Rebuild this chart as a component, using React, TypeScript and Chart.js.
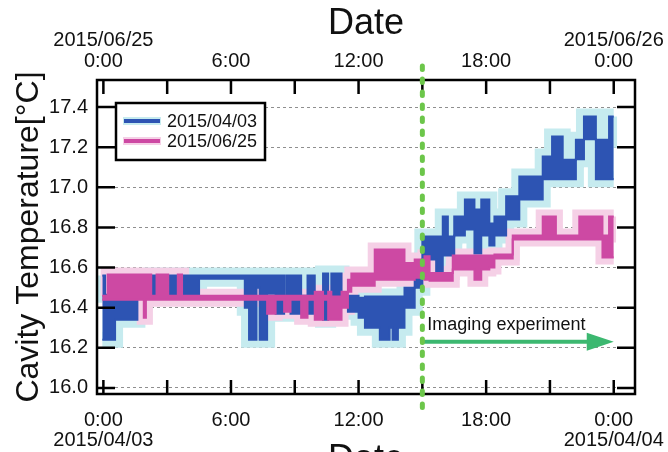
import React, { useEffect, useRef } from 'react';
import { Chart, registerables } from 'chart.js';

Chart.register(...registerables);

// ---------- data ----------
const X_MIN = -0.3;
const X_MAX = 25.0;
const Y_MIN = 15.97;
const Y_MAX = 17.535;
const X_TICKS = [0, 3, 6, 9, 12, 15, 18, 21, 24];
const Y_TICKS = [16.0, 16.2, 16.4, 16.6, 16.8, 17.0, 17.2, 17.4];
const BOTTOM_LABELS: Record<number, string[]> = {
  0: ['0:00', '2015/04/03'],
  6: ['6:00'],
  12: ['12:00'],
  18: ['18:00'],
  24: ['0:00', '2015/04/04'],
};
const TOP_LABELS: Record<number, string[]> = {
  0: ['2015/06/25', '0:00'],
  6: ['6:00'],
  12: ['12:00'],
  18: ['18:00'],
  24: ['2015/06/26', '0:00'],
};
const SERIES_NAMES = ['2015/04/03', '2015/06/25'];

// 2015/04/03 series: step start hour, lower and upper envelope of the fluctuating trace
const BLUE_H = [-0.05, 0.08, 0.55, 1.6, 2.25, 2.5, 3.05, 3.5, 3.7, 4.5, 6.65, 6.85, 7.2, 7.35, 7.7, 8.1, 8.5, 8.6, 8.8, 9.3, 9.6, 9.94, 10.33, 10.57, 10.72, 11.2, 11.5, 12.0, 12.3, 13.0, 13.46, 13.6, 13.85, 14.16, 14.64, 15.0, 15.65, 15.96, 16.2, 16.5, 17.0, 17.45, 17.77, 18.15, 18.39, 18.94, 19.56, 20.66, 21.1, 21.6, 22.22, 22.6, 23.16, 23.78, 24.0];
const BLUE_LO = [16.24, 16.24, 16.34, 16.46, 16.465, 16.46, 16.465, 16.46, 16.465, 16.545, 16.4, 16.24, 16.5, 16.24, 16.47, 16.37, 16.44, 16.4, 16.37, 16.44, 16.37, 16.44, 16.34, 16.44, 16.456, 16.42, 16.38, 16.35, 16.3, 16.24, 16.3, 16.24, 16.3, 16.4, 16.5, 16.64, 16.57, 16.66, 16.66, 16.76, 16.79, 16.67, 16.76, 16.71, 16.76, 16.84, 16.94, 17.04, 17.04, 17.04, 17.14, 17.24, 17.04, 17.04, 17.04];
const BLUE_HI = [16.56, 16.465, 16.465, 16.5, 16.56, 16.5, 16.56, 16.5, 16.56, 16.56, 16.56, 16.56, 16.56, 16.56, 16.56, 16.56, 16.46, 16.56, 16.56, 16.46, 16.56, 16.46, 16.57, 16.46, 16.57, 16.46, 16.46, 16.45, 16.456, 16.456, 16.456, 16.456, 16.456, 16.5, 16.6, 16.755, 16.755, 16.855, 16.755, 16.855, 16.94, 16.89, 16.94, 16.82, 16.855, 16.955, 17.054, 17.154, 17.253, 17.137, 17.237, 17.353, 17.237, 17.353, 17.353];

// 2015/06/25 series
const PINK_H = [-0.05, 0.2, 1.9, 2.0, 2.25, 2.5, 3.05, 3.5, 3.7, 7.7, 8.1, 8.5, 8.8, 9.3, 9.6, 9.94, 10.33, 10.57, 10.72, 11.2, 11.5, 11.66, 12.76, 14.16, 14.64, 15.1, 15.34, 16.43, 17.45, 17.77, 18.15, 18.39, 19.25, 20.66, 21.28, 22.38, 23.47, 23.78, 24.0];
const PINK_LO = [16.44, 16.44, 16.35, 16.44, 16.44, 16.44, 16.44, 16.44, 16.44, 16.37, 16.44, 16.38, 16.44, 16.35, 16.44, 16.34, 16.44, 16.34, 16.34, 16.4, 16.48, 16.51, 16.54, 16.54, 16.55, 16.54, 16.535, 16.59, 16.54, 16.59, 16.6, 16.645, 16.74, 16.74, 16.74, 16.74, 16.65, 16.65, 16.65];
const PINK_HI = [16.46, 16.565, 16.565, 16.565, 16.46, 16.565, 16.46, 16.565, 16.46, 16.46, 16.46, 16.46, 16.46, 16.46, 16.46, 16.48, 16.46, 16.48, 16.456, 16.48, 16.54, 16.57, 16.69, 16.623, 16.64, 16.656, 16.573, 16.66, 16.66, 16.66, 16.66, 16.665, 16.76, 16.855, 16.76, 16.855, 16.76, 16.855, 16.855];

const EXPERIMENT_START = 15;
const EXPERIMENT_END = 24;
const ARROW_LEVEL = 16.23;
const TEXT_LEVEL = 16.315;
const EXPERIMENT_LABEL = 'Imaging experiment';

// ---------- styles ----------
const FONT = '"Liberation Sans", Arial, Helvetica, sans-serif';
const BLUE = '#2d54b3';
const CYAN = '#c6ebef';
const PINK = '#cd49a3';
const PINK_BAND = '#f5d0e6';
const GREEN_DOTS = '#6cc64a';
const GREEN_ARROW = '#3cb870';

function pts(H: number[], V: number[]) {
  return H.map((h, i) => ({ x: h, y: V[i] }));
}

function layer(data: any[], color: string, width: number, fill: any, order: number) {
  return {
    data,
    borderColor: color,
    backgroundColor: color,
    borderWidth: width,
    fill,
    stepped: 'before',
    pointRadius: 0,
    pointHoverRadius: 0,
    order,
    borderCapStyle: 'butt',
    borderJoinStyle: 'miter',
    xAxisID: 'x',
    yAxisID: 'y',
  };
}

const overlayPlugin = {
  id: 'overlay',
  afterDatasetsDraw(chart: any) {
    const { ctx, chartArea: a, scales } = chart;
    const xs = scales.x;
    const ys = scales.y;
    ctx.save();

    // experiment arrow
    const ax0 = xs.getPixelForValue(EXPERIMENT_START);
    const ax1 = xs.getPixelForValue(EXPERIMENT_END);
    const ay = ys.getPixelForValue(ARROW_LEVEL);
    ctx.strokeStyle = GREEN_ARROW;
    ctx.fillStyle = GREEN_ARROW;
    ctx.lineWidth = 4;
    ctx.beginPath();
    ctx.moveTo(ax0, ay);
    ctx.lineTo(ax1 - 20, ay);
    ctx.stroke();
    ctx.beginPath();
    ctx.moveTo(ax1, ay);
    ctx.lineTo(ax1 - 27, ay - 9);
    ctx.lineTo(ax1 - 27, ay + 9);
    ctx.closePath();
    ctx.fill();

    ctx.fillStyle = '#111';
    ctx.font = `18px ${FONT}`;
    ctx.textAlign = 'left';
    ctx.textBaseline = 'middle';
    ctx.fillText(EXPERIMENT_LABEL, ax0 + 5, ys.getPixelForValue(TEXT_LEVEL));

    // frame
    ctx.strokeStyle = '#000';
    ctx.lineWidth = 2.5;
    ctx.strokeRect(a.left, a.top, a.right - a.left, a.bottom - a.top);

    // inward ticks
    ctx.lineWidth = 2.5;
    ctx.beginPath();
    X_TICKS.forEach((v) => {
      const px = xs.getPixelForValue(v);
      ctx.moveTo(px, a.bottom);
      ctx.lineTo(px, a.bottom - 14);
      ctx.moveTo(px, a.top);
      ctx.lineTo(px, a.top + 14);
    });
    Y_TICKS.forEach((v) => {
      const py = ys.getPixelForValue(v);
      ctx.moveTo(a.left, py);
      ctx.lineTo(a.left + 18, py);
      ctx.moveTo(a.right, py);
      ctx.lineTo(a.right - 18, py);
    });
    ctx.stroke();

    // green dotted experiment start line
    const gx = xs.getPixelForValue(EXPERIMENT_START);
    ctx.strokeStyle = GREEN_DOTS;
    ctx.lineWidth = 5;
    ctx.lineCap = 'round';
    ctx.setLineDash([3.5, 9.5]);
    ctx.beginPath();
    ctx.moveTo(gx, 66);
    ctx.lineTo(gx, 410);
    ctx.stroke();
    ctx.setLineDash([]);
    ctx.lineCap = 'butt';

    // legend
    const lx = a.left + 19;
    const ly = a.top + 23;
    const lw = 149;
    const lh = 57;
    ctx.fillStyle = '#fff';
    ctx.fillRect(lx, ly, lw, lh);
    ctx.strokeStyle = '#000';
    ctx.lineWidth = 2.5;
    ctx.strokeRect(lx, ly, lw, lh);
    const items = [
      { name: SERIES_NAMES[0], main: BLUE, band: CYAN },
      { name: SERIES_NAMES[1], main: PINK, band: PINK_BAND },
    ];
    items.forEach((it, i) => {
      const y = ly + 18 + i * 20;
      ctx.strokeStyle = it.band;
      ctx.lineWidth = 8;
      ctx.beginPath();
      ctx.moveTo(lx + 7, y);
      ctx.lineTo(lx + 45, y);
      ctx.stroke();
      ctx.strokeStyle = it.main;
      ctx.lineWidth = 4;
      ctx.beginPath();
      ctx.moveTo(lx + 8, y);
      ctx.lineTo(lx + 44, y);
      ctx.stroke();
      ctx.fillStyle = '#111';
      ctx.font = `18px ${FONT}`;
      ctx.textAlign = 'left';
      ctx.textBaseline = 'middle';
      ctx.fillText(it.name, lx + 51, y + 1);
    });

    // bottom axis title (cut off by the figure edge)
    ctx.fillStyle = '#111';
    ctx.font = `36px ${FONT}`;
    ctx.textAlign = 'center';
    ctx.textBaseline = 'middle';
    ctx.fillText('Date', (a.left + a.right) / 2, 460);

    ctx.restore();
  },
};

export default function App() {
  const ref = useRef<HTMLCanvasElement | null>(null);

  useEffect(() => {
    const canvas = ref.current;
    if (!canvas) return;
    Chart.defaults.font.family = FONT;
    Chart.defaults.color = '#111';

    const chart = new Chart(canvas, {
      type: 'line',
      data: {
        datasets: [
          layer(pts(BLUE_H, BLUE_HI), CYAN, 16, false, 8),
          layer(pts(BLUE_H, BLUE_LO), CYAN, 16, '-1', 7),
          layer(pts(PINK_H, PINK_HI), PINK_BAND, 14, false, 6),
          layer(pts(PINK_H, PINK_LO), PINK_BAND, 14, '-1', 5),
          layer(pts(BLUE_H, BLUE_HI), BLUE, 2, false, 4),
          layer(pts(BLUE_H, BLUE_LO), BLUE, 2, '-1', 3),
          layer(pts(PINK_H, PINK_HI), PINK, 2, false, 2),
          layer(pts(PINK_H, PINK_LO), PINK, 2, '-1', 1),
        ] as any,
      },
      options: {
        animation: false,
        responsive: false,
        devicePixelRatio: 1,
        layout: { padding: { left: 0, right: 33, top: 0, bottom: 0 } },
        plugins: {
          legend: { display: false },
          tooltip: { enabled: false },
        },
        scales: {
          x: {
            type: 'linear',
            position: 'bottom',
            min: X_MIN,
            max: X_MAX,
            afterBuildTicks: (s: any) => {
              s.ticks = X_TICKS.map((v) => ({ value: v }));
            },
            afterFit: (s: any) => {
              s.height = 58;
              s.paddingLeft = 0;
              s.paddingRight = 0;
            },
            ticks: {
              autoSkip: false,
              maxRotation: 0,
              minRotation: 0,
              padding: 8,
              color: '#111',
              font: { size: 20, lineHeight: 1.0 },
              callback: (v: any) => BOTTOM_LABELS[v] ?? '',
            },
            grid: { display: false },
            border: { display: false },
          },
          x2: {
            type: 'linear',
            position: 'top',
            min: X_MIN,
            max: X_MAX,
            afterBuildTicks: (s: any) => {
              s.ticks = X_TICKS.map((v) => ({ value: v }));
            },
            afterFit: (s: any) => {
              s.height = 80;
              s.paddingLeft = 0;
              s.paddingRight = 0;
            },
            ticks: {
              autoSkip: false,
              maxRotation: 0,
              minRotation: 0,
              padding: 0,
              color: '#111',
              font: { size: 20, lineHeight: 1.05 },
              callback: (v: any) => TOP_LABELS[v] ?? '',
            },
            grid: { display: false },
            border: { display: false },
            title: {
              display: true,
              text: 'Date',
              color: '#111',
              font: { size: 36 },
              padding: { top: 2, bottom: 0 },
            },
          },
          y: {
            type: 'linear',
            position: 'left',
            min: Y_MIN,
            max: Y_MAX,
            afterBuildTicks: (s: any) => {
              s.ticks = Y_TICKS.map((v) => ({ value: v }));
            },
            afterFit: (s: any) => {
              s.width = 97;
              s.paddingTop = 0;
              s.paddingBottom = 0;
            },
            ticks: {
              autoSkip: false,
              padding: 9,
              color: '#111',
              font: { size: 20 },
              callback: (v: any) => Number(v).toFixed(1),
            },
            grid: { color: '#8f8f8f', lineWidth: 1, drawTicks: false },
            border: { display: false, dash: [3, 3] },
            title: {
              display: true,
              text: 'Cavity Temperature[°C]',
              color: '#111',
              font: { size: 32 },
              padding: { top: 10, bottom: 0 },
            },
          },
        },
      } as any,
      plugins: [overlayPlugin],
    });

    return () => chart.destroy();
  }, []);

  return (
    <div style={{ position: 'absolute', left: 0, top: 0, width: 668, height: 452, overflow: 'hidden', background: '#fff' }}>
      <canvas ref={ref} width={668} height={452} style={{ display: 'block' }} />
    </div>
  );
}
